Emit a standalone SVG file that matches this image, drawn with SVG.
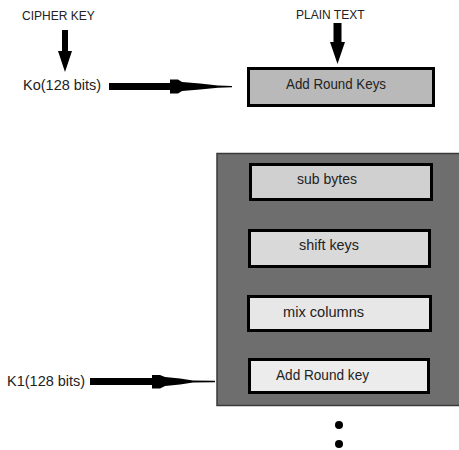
<svg xmlns="http://www.w3.org/2000/svg" width="459" height="450" viewBox="0 0 459 450">
  <style>
    text { font-family: "Liberation Sans", Arial, sans-serif; fill: #222; }
    .lbl { font-size: 12px; }
    .key { font-size: 14.5px; }
    .step { stroke: #000; stroke-width: 3; }
    .arr { fill: #000; stroke: none; }
  </style>
  <rect width="459" height="450" fill="#fff"/>

  <g id="cipher-key"><text class="lbl" x="22" y="20">CIPHER KEY</text></g>
  <g id="plain-text"><text class="lbl" x="296" y="19">PLAIN TEXT</text></g>
  <g id="k0"><text class="key" x="23" y="90">Ko(128 bits)</text></g>
  <g id="k1"><text class="key" x="7" y="386">K1(128 bits)</text></g>

  <g id="add-round-keys">
    <rect class="step" x="248.5" y="68.5" width="185" height="37" fill="#b9b9b9"/>
    <text x="286" y="89" font-size="14" textLength="100" lengthAdjust="spacingAndGlyphs">Add Round Keys</text>
  </g>

  <g id="round">
    <rect x="217" y="153.5" width="243" height="252" fill="#6e6e6e" stroke="#3a3a3a" stroke-width="1.5"/>
  </g>
  <g id="sub-bytes">
    <rect class="step" x="250.5" y="164.5" width="181" height="35" fill="#d0d0d0"/>
    <text x="297" y="184" font-size="14">sub bytes</text>
  </g>
  <g id="shift-keys">
    <rect class="step" x="249.5" y="230.5" width="180" height="36" fill="#d9d9d9"/>
    <text x="299" y="250" font-size="14.4">shift keys</text>
  </g>
  <g id="mix-columns">
    <rect class="step" x="248.5" y="296.5" width="182" height="34" fill="#e7e7e7"/>
    <text x="283" y="317" font-size="14.6">mix columns</text>
  </g>
  <g id="add-round-key">
    <rect class="step" x="249.5" y="359.5" width="179" height="33" fill="#ececec"/>
    <text x="276" y="380" font-size="14" textLength="93" lengthAdjust="spacingAndGlyphs">Add Round key</text>
  </g>

  <g id="continuation">
    <circle cx="339" cy="425" r="4" fill="#000"/>
    <circle cx="339" cy="444" r="4" fill="#000"/>
  </g>

  <g id="connectors">
    <path class="arr" d="M62,30 H68 V51 H72 L65,72 L58,51 H62 Z"/>
    <path class="arr" d="M333.5,23 H341.5 V42 H345 L337.5,64 L330,42 H333.5 Z"/>
    <path class="arr" d="M109,83 H170 V79.5 H178 L182,82 L200,83.5 L218,85.5 L232,86 V87.2 L218,87.8 L200,89.5 L182,91 L178,93.5 H170 V90 H109 Z"/>
    <path class="arr" d="M90,378 H152 V375 H160 L165,377 L180,378.5 L193,380.5 L215,380.8 V382.2 L193,382.5 L180,384.5 L165,386 L160,388.5 H152 V385 H90 Z"/>
  </g>
</svg>
